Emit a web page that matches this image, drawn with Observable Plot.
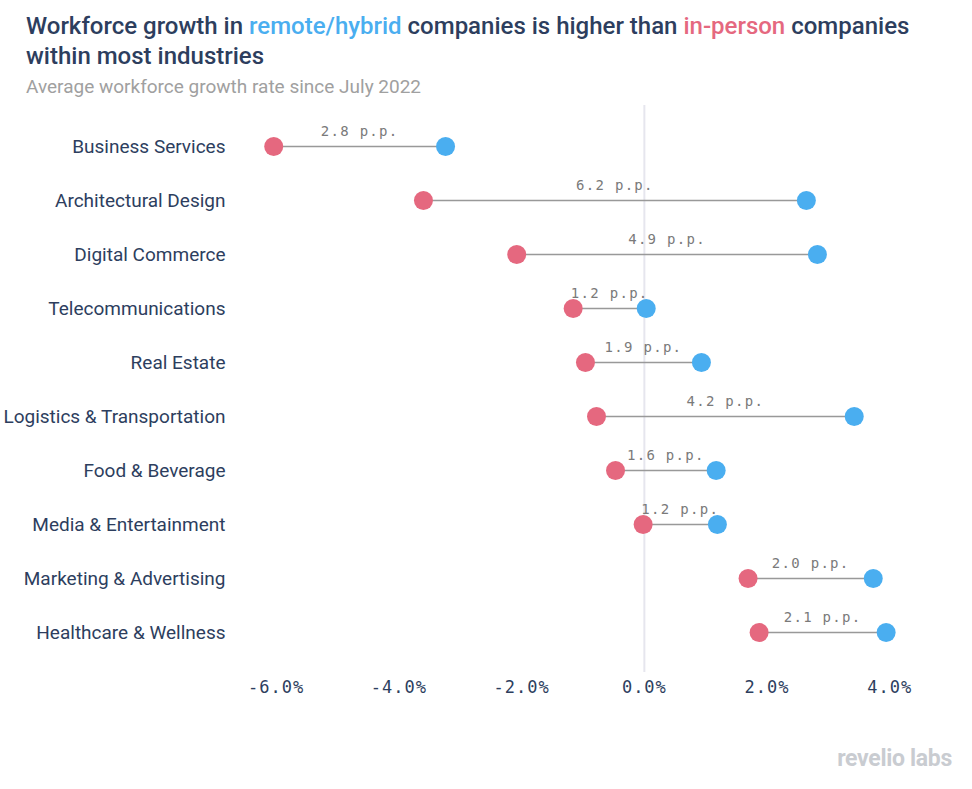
<!DOCTYPE html>
<html>
<head>
<meta charset="utf-8">
<script src="https://cdn.jsdelivr.net/npm/d3@7"></script>
<script src="https://cdn.jsdelivr.net/npm/@observablehq/plot@0.6"></script>
<style>
  html, body { margin: 0; padding: 0; background: #fff; width: 972px; height: 789px; overflow: hidden; position: relative; }
  #title { position: absolute; left: 26px; top: 11px; width: 930px; font-family: Roboto, sans-serif; font-weight: 500; font-size: 24px; line-height: 30px; color: #2d3e5e; }
  #subtitle { position: absolute; left: 26px; top: 75px; font-family: Roboto, sans-serif; font-size: 19px; color: #a0a0a0; }
  #chart { position: absolute; left: 0; top: 100px; }
  #logo { position: absolute; right: 20px; top: 745px; font-family: Roboto, sans-serif; font-weight: 700; font-size: 23px; color: #c9ccd1; letter-spacing: -0.3px; }
  .blue { color: #4aaef0; }
  .pink { color: #e5687f; }
</style>
</head>
<body>
<div id="title">Workforce growth in <span class="blue">remote/hybrid</span> companies is higher than <span class="pink">in-person</span> companies within most industries</div>
<div id="subtitle">Average workforce growth rate since July 2022</div>
<div id="chart"></div>
<div id="logo">revelio labs</div>
<script>
const industries = ["Business Services","Architectural Design","Digital Commerce","Telecommunications","Real Estate","Logistics & Transportation","Food & Beverage","Media & Entertainment","Marketing & Advertising","Healthcare & Wellness"];
const inPerson = [-6.04, -3.60, -2.08, -1.16, -0.96, -0.78, -0.47, -0.02, 1.69, 1.87];
const remote = [-3.24, 2.64, 2.82, 0.03, 0.93, 3.42, 1.17, 1.19, 3.73, 3.94];
const gapLabels = ["2.8 p.p.","6.2 p.p.","4.9 p.p.","1.2 p.p.","1.9 p.p.","4.2 p.p.","1.6 p.p.","1.2 p.p.","2.0 p.p.","2.1 p.p."];
const xTicks = [-6, -4, -2, 0, 2, 4];

const rows = industries.map((name, i) => ({name, a: inPerson[i], b: remote[i], mid: (inPerson[i] + remote[i]) / 2, label: gapLabels[i]}));

const chart = Plot.plot({
  width: 972,
  height: 620,
  marginTop: 5,
  marginBottom: 48,
  marginLeft: 245,
  marginRight: 52,
  style: {fontFamily: "Roboto, sans-serif", background: "transparent"},
  x: {domain: [-6.5, 4.5], ticks: xTicks, tickFormat: d => d.toFixed(1) + "%", label: null},
  y: {type: "point", domain: industries, padding: 0.75, label: null},
  marks: [
    Plot.ruleX([0], {stroke: "#e6e6ee", strokeWidth: 2}),
    Plot.link(rows, {x1: "a", x2: "b", y1: "name", y2: "name", stroke: "#999", strokeWidth: 1.5}),
    Plot.dot(rows, {x: "a", y: "name", r: 9.5, fill: "#e5687f", stroke: "none"}),
    Plot.dot(rows, {x: "b", y: "name", r: 9.5, fill: "#4aaef0", stroke: "none"}),
    Plot.text(rows, {x: "mid", y: "name", text: "label", dy: -15, fontFamily: "DejaVu Sans Mono, monospace", fontSize: 14, fill: "#7a7a7a"}),
    Plot.axisX({ticks: xTicks, tickFormat: d => d.toFixed(1) + "%", tickSize: 0, tickPadding: 8, fontFamily: "DejaVu Sans Mono, monospace", fontSize: 17, fill: "#2d3e5e", label: null}),
    Plot.axisY({tickSize: 0, tickPadding: 20, fontSize: 19, fill: "#2d3e5e", label: null})
  ]
});
chart.querySelectorAll("g[aria-label='x-axis tick label'] text").forEach(t => t.setAttribute("letter-spacing", "1"));
chart.querySelectorAll("g[aria-label='text'] text").forEach(t => t.setAttribute("letter-spacing", "1.3"));
document.getElementById("chart").appendChild(chart);
</script>
</body>
</html>
